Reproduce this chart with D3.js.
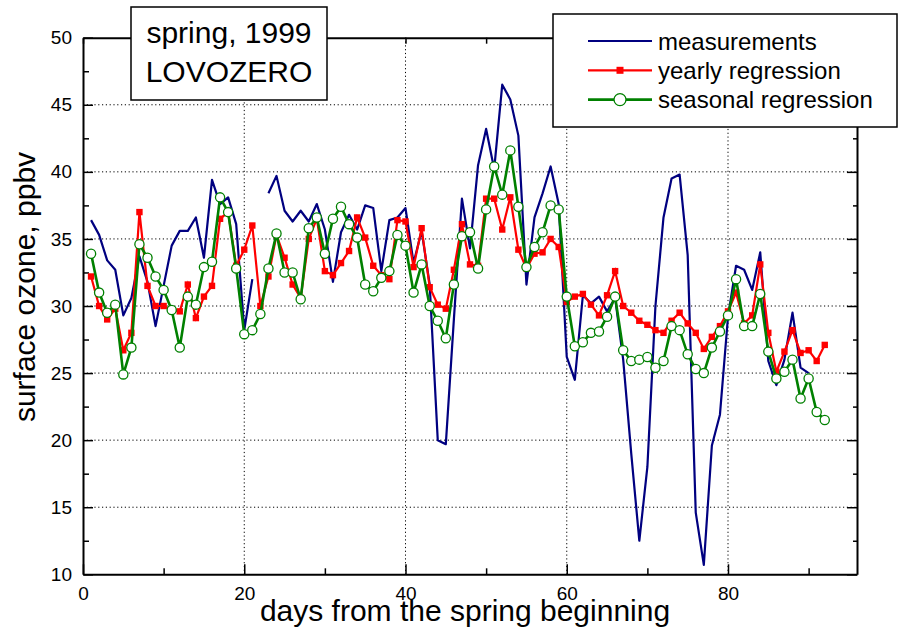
<!DOCTYPE html>
<html>
<head>
<meta charset="utf-8">
<script src="https://cdn.jsdelivr.net/npm/d3@7"></script>
<style>
  body { margin: 0; background: #fff; }
  text { font-family: "Liberation Sans", Arial, sans-serif; }
</style>
</head>
<body>
<div id="main"></div>
<script>
// days 1..92 of spring 1999, Lovozero surface ozone (ppbv)
const days = d3.range(1, 93);

const measurements = [36.4, 35.3, 33.4, 32.7, 29.3, 30.6, 33.7, 31.8, 28.5, 31.5,
  34.5, 35.6, 35.6, 36.6, 33.6, 39.4, 37.6, 38.1, 36.1, 28.2,
  32.0, null, 38.4, 39.7, 37.1, 36.3, 37.1, 36.3, 37.6, 35.7,
  31.8, 35.5, 36.8, 35.7, 37.5, 37.3, 32.6, 36.4, 36.6, 37.3,
  33.2, 35.6, 31.6, 20.0, 19.7, 29.0, 38.0, 34.3, 40.5, 43.2,
  40.2, 46.5, 45.4, 42.7, 31.6, 36.6, 38.4, 40.4, 37.6, 26.2,
  24.5, 30.8, 30.2, 30.7, 29.6, 30.6, 26.0, 19.0, 12.5, 18.0,
  30.0, 36.6, 39.5, 39.8, 33.8, 14.6, 10.7, 19.6, 21.9, 29.2,
  33.0, 32.7, 31.2, 34.0, 25.9, 24.1, 26.0, 29.5, 25.4, 25.0];

const yearly = [32.2, 30.0, 29.0, 29.8, 26.7, 28.0, 37.0, 31.5, 30.0, 30.0,
  29.7, 29.6, 31.6, 29.1, 30.7, 31.5, 36.5, 37.0, 33.0, 34.2,
  36.0, 30.0, 32.2, 35.3, 33.6, 31.6, 30.6, 35.0, 36.5, 32.6,
  32.3, 33.2, 34.1, 36.6, 35.1, 33.0, 32.3, 32.0, 36.4, 36.3,
  32.9, 35.8, 31.4, 30.1, 29.8, 32.7, 36.1, 33.1, 33.0, 38.0,
  38.0, 35.7, 38.1, 34.2, 32.8, 33.9, 34.0, 35.0, 34.4, 30.3,
  30.7, 30.9, 30.1, 29.3, 30.8, 32.6, 30.0, 29.5, 28.9, 28.6,
  28.2, 28.0, 28.9, 29.5, 28.7, 28.0, 26.8, 27.7, 28.5, 29.6,
  31.0, 28.7, 29.3, 33.1, 28.0, 25.1, 26.6, 28.2, 26.5, 26.7,
  25.9, 27.1];

const seasonal = [33.9, 31.0, 29.5, 30.1, 24.9, 26.9, 34.6, 33.6, 32.2, 31.2,
  29.7, 26.9, 30.7, 30.1, 32.9, 33.3, 38.1, 37.0, 32.8, 27.9,
  28.2, 29.4, 32.8, 35.4, 32.5, 32.5, 30.5, 35.8, 36.6, 33.9,
  36.5, 37.4, 36.1, 35.1, 31.6, 31.1, 32.1, 32.6, 35.3, 34.5,
  31.0, 33.1, 30.0, 28.9, 27.6, 31.6, 35.2, 35.5, 32.8, 37.2,
  40.4, 38.3, 41.6, 37.4, 32.9, 34.4, 35.5, 37.5, 37.2, 30.7,
  27.0, 27.3, 28.0, 28.1, 29.2, 30.7, 26.7, 25.9, 26.0, 26.2,
  25.4, 25.9, 28.5, 28.2, 26.4, 25.3, 25.0, 26.9, 28.1, 29.3,
  32.0, 28.5, 28.5, 30.9, 26.6, 24.6, 25.1, 26.0, 23.1, 24.6,
  22.1, 21.5];

const xMajor = [0, 20, 40, 60, 80];
const xMinor = [10, 30, 50, 70, 90];
const yMajor = [10, 15, 20, 25, 30, 35, 40, 45, 50];
const yMinor = [12.5, 17.5, 22.5, 27.5, 32.5, 37.5, 42.5, 47.5];
const legendLabels = ["measurements", "yearly regression", "seasonal regression"];
const titleLines = ["spring, 1999", "LOVOZERO"];

const w = 901;
const h = 630;
const plot = { left: 83, right: 857, top: 37.7, bottom: 574.3 };

const svg = d3.select("#main").append("svg")
  .attr("width", w)
  .attr("height", h);

const x = d3.scaleLinear().domain([0, 96]).range([plot.left, plot.right]);
const y = d3.scaleLinear().domain([10, 50]).range([plot.bottom, plot.top]);

// dotted grid
const grid = svg.append("g")
  .attr("stroke", "#000")
  .attr("stroke-width", 1)
  .attr("stroke-dasharray", "1.2,2.6");
grid.selectAll(".gy")
  .data(yMajor.filter(v => v > 10 && v < 50))
  .enter().append("line")
  .attr("x1", plot.left).attr("x2", plot.right)
  .attr("y1", d => y(d)).attr("y2", d => y(d));
grid.selectAll(".gx")
  .data(xMajor.filter(v => v > 0))
  .enter().append("line")
  .attr("y1", plot.top).attr("y2", plot.bottom)
  .attr("x1", d => x(d)).attr("x2", d => x(d));

// axes, ticks pointing inward
function styleAxis(g) {
  g.select(".domain").attr("stroke-width", 2);
  g.selectAll(".tick line").attr("stroke-width", 1.5);
  g.selectAll(".tick text")
    .attr("font-family", '"Liberation Sans", Arial, sans-serif')
    .attr("font-size", 19)
    .attr("fill", "#000");
}

svg.append("g")
  .attr("transform", "translate(0," + plot.bottom + ")")
  .call(d3.axisBottom(x).tickValues(xMajor).tickSize(-10).tickSizeOuter(0).tickPadding(12))
  .call(styleAxis);
svg.append("g")
  .attr("transform", "translate(0," + plot.bottom + ")")
  .call(d3.axisBottom(x).tickValues(xMinor).tickSize(-6).tickFormat(""))
  .call(g => g.select(".domain").remove())
  .call(styleAxis);

svg.append("g")
  .attr("transform", "translate(0," + plot.top + ")")
  .call(d3.axisTop(x).tickValues(xMajor).tickSize(-6).tickSizeOuter(0).tickFormat(""))
  .call(styleAxis);
svg.append("g")
  .attr("transform", "translate(0," + plot.top + ")")
  .call(d3.axisTop(x).tickValues(xMinor).tickSize(-6).tickFormat(""))
  .call(g => g.select(".domain").remove())
  .call(styleAxis);

svg.append("g")
  .attr("transform", "translate(" + plot.left + ",0)")
  .call(d3.axisLeft(y).tickValues(yMajor).tickSize(-10).tickSizeOuter(0).tickPadding(11))
  .call(styleAxis);
svg.append("g")
  .attr("transform", "translate(" + plot.left + ",0)")
  .call(d3.axisLeft(y).tickValues(yMinor).tickSize(-6).tickFormat(""))
  .call(g => g.select(".domain").remove())
  .call(styleAxis);

svg.append("g")
  .attr("transform", "translate(" + plot.right + ",0)")
  .call(d3.axisRight(y).tickValues(yMajor).tickSize(-10).tickSizeOuter(0).tickFormat(""))
  .call(styleAxis);
svg.append("g")
  .attr("transform", "translate(" + plot.right + ",0)")
  .call(d3.axisRight(y).tickValues(yMinor).tickSize(-4).tickFormat(""))
  .call(g => g.select(".domain").remove())
  .call(styleAxis);

// series
const mLine = d3.line()
  .defined(d => d[1] !== null)
  .x(d => x(d[0]))
  .y(d => y(d[1]));

svg.append("path")
  .datum(measurements.map((v, i) => [days[i], v]))
  .attr("fill", "none")
  .attr("stroke", "#000080")
  .attr("stroke-width", 2.2)
  .attr("stroke-linejoin", "round")
  .attr("d", mLine);

svg.append("path")
  .datum(yearly.map((v, i) => [days[i], v]))
  .attr("fill", "none")
  .attr("stroke", "#ff0000")
  .attr("stroke-width", 2.2)
  .attr("d", mLine);

svg.append("g").selectAll("rect")
  .data(yearly.map((v, i) => [days[i], v]))
  .enter().append("rect")
  .attr("x", d => x(d[0]) - 3.2)
  .attr("y", d => y(d[1]) - 3.2)
  .attr("width", 6.4)
  .attr("height", 6.4)
  .attr("fill", "#ff0000");

svg.append("path")
  .datum(seasonal.map((v, i) => [days[i], v]))
  .attr("fill", "none")
  .attr("stroke", "#008000")
  .attr("stroke-width", 2.6)
  .attr("d", mLine);

svg.append("g").selectAll("circle")
  .data(seasonal.map((v, i) => [days[i], v]))
  .enter().append("circle")
  .attr("cx", d => x(d[0]))
  .attr("cy", d => y(d[1]))
  .attr("r", 4.6)
  .attr("fill", "#fff")
  .attr("stroke", "#008000")
  .attr("stroke-width", 1.3);

// axis titles
svg.append("text")
  .attr("x", 465)
  .attr("y", 621)
  .attr("text-anchor", "middle")
  .attr("font-size", 30)
  .text("days from the spring beginning");

svg.append("text")
  .attr("transform", "translate(35,287) rotate(-90)")
  .attr("text-anchor", "middle")
  .attr("font-size", 30)
  .text("surface ozone, ppbv");

// title box
svg.append("rect")
  .attr("x", 131).attr("y", 7)
  .attr("width", 196).attr("height", 93)
  .attr("fill", "#fff")
  .attr("stroke", "#000")
  .attr("stroke-width", 1.5);
svg.selectAll(".title")
  .data(titleLines)
  .enter().append("text")
  .attr("x", 229)
  .attr("y", (d, i) => 43 + i * 38.5)
  .attr("text-anchor", "middle")
  .attr("font-size", 30)
  .text(d => d);

// legend
const legend = svg.append("g");
legend.append("rect")
  .attr("x", 553).attr("y", 14)
  .attr("width", 344).attr("height", 113)
  .attr("fill", "#fff")
  .attr("stroke", "#000")
  .attr("stroke-width", 1.5);

const legendColors = ["#000080", "#ff0000", "#008000"];
const rows = legend.selectAll(".row")
  .data(legendLabels)
  .enter().append("g")
  .attr("transform", (d, i) => "translate(0," + (41 + i * 29.3) + ")");
rows.append("line")
  .attr("x1", 588).attr("x2", 652)
  .attr("stroke", (d, i) => legendColors[i])
  .attr("stroke-width", (d, i) => i === 2 ? 2.6 : 2.2);
rows.append("text")
  .attr("x", 658)
  .attr("y", 8.5)
  .attr("font-size", 24)
  .text(d => d);
rows.filter((d, i) => i === 1).append("rect")
  .attr("x", 616.5).attr("y", -3.5)
  .attr("width", 7).attr("height", 7)
  .attr("fill", "#ff0000");
rows.filter((d, i) => i === 2).append("circle")
  .attr("cx", 620).attr("cy", 0)
  .attr("r", 6)
  .attr("fill", "#fff")
  .attr("stroke", "#008000")
  .attr("stroke-width", 1.3);
</script>
</body>
</html>
